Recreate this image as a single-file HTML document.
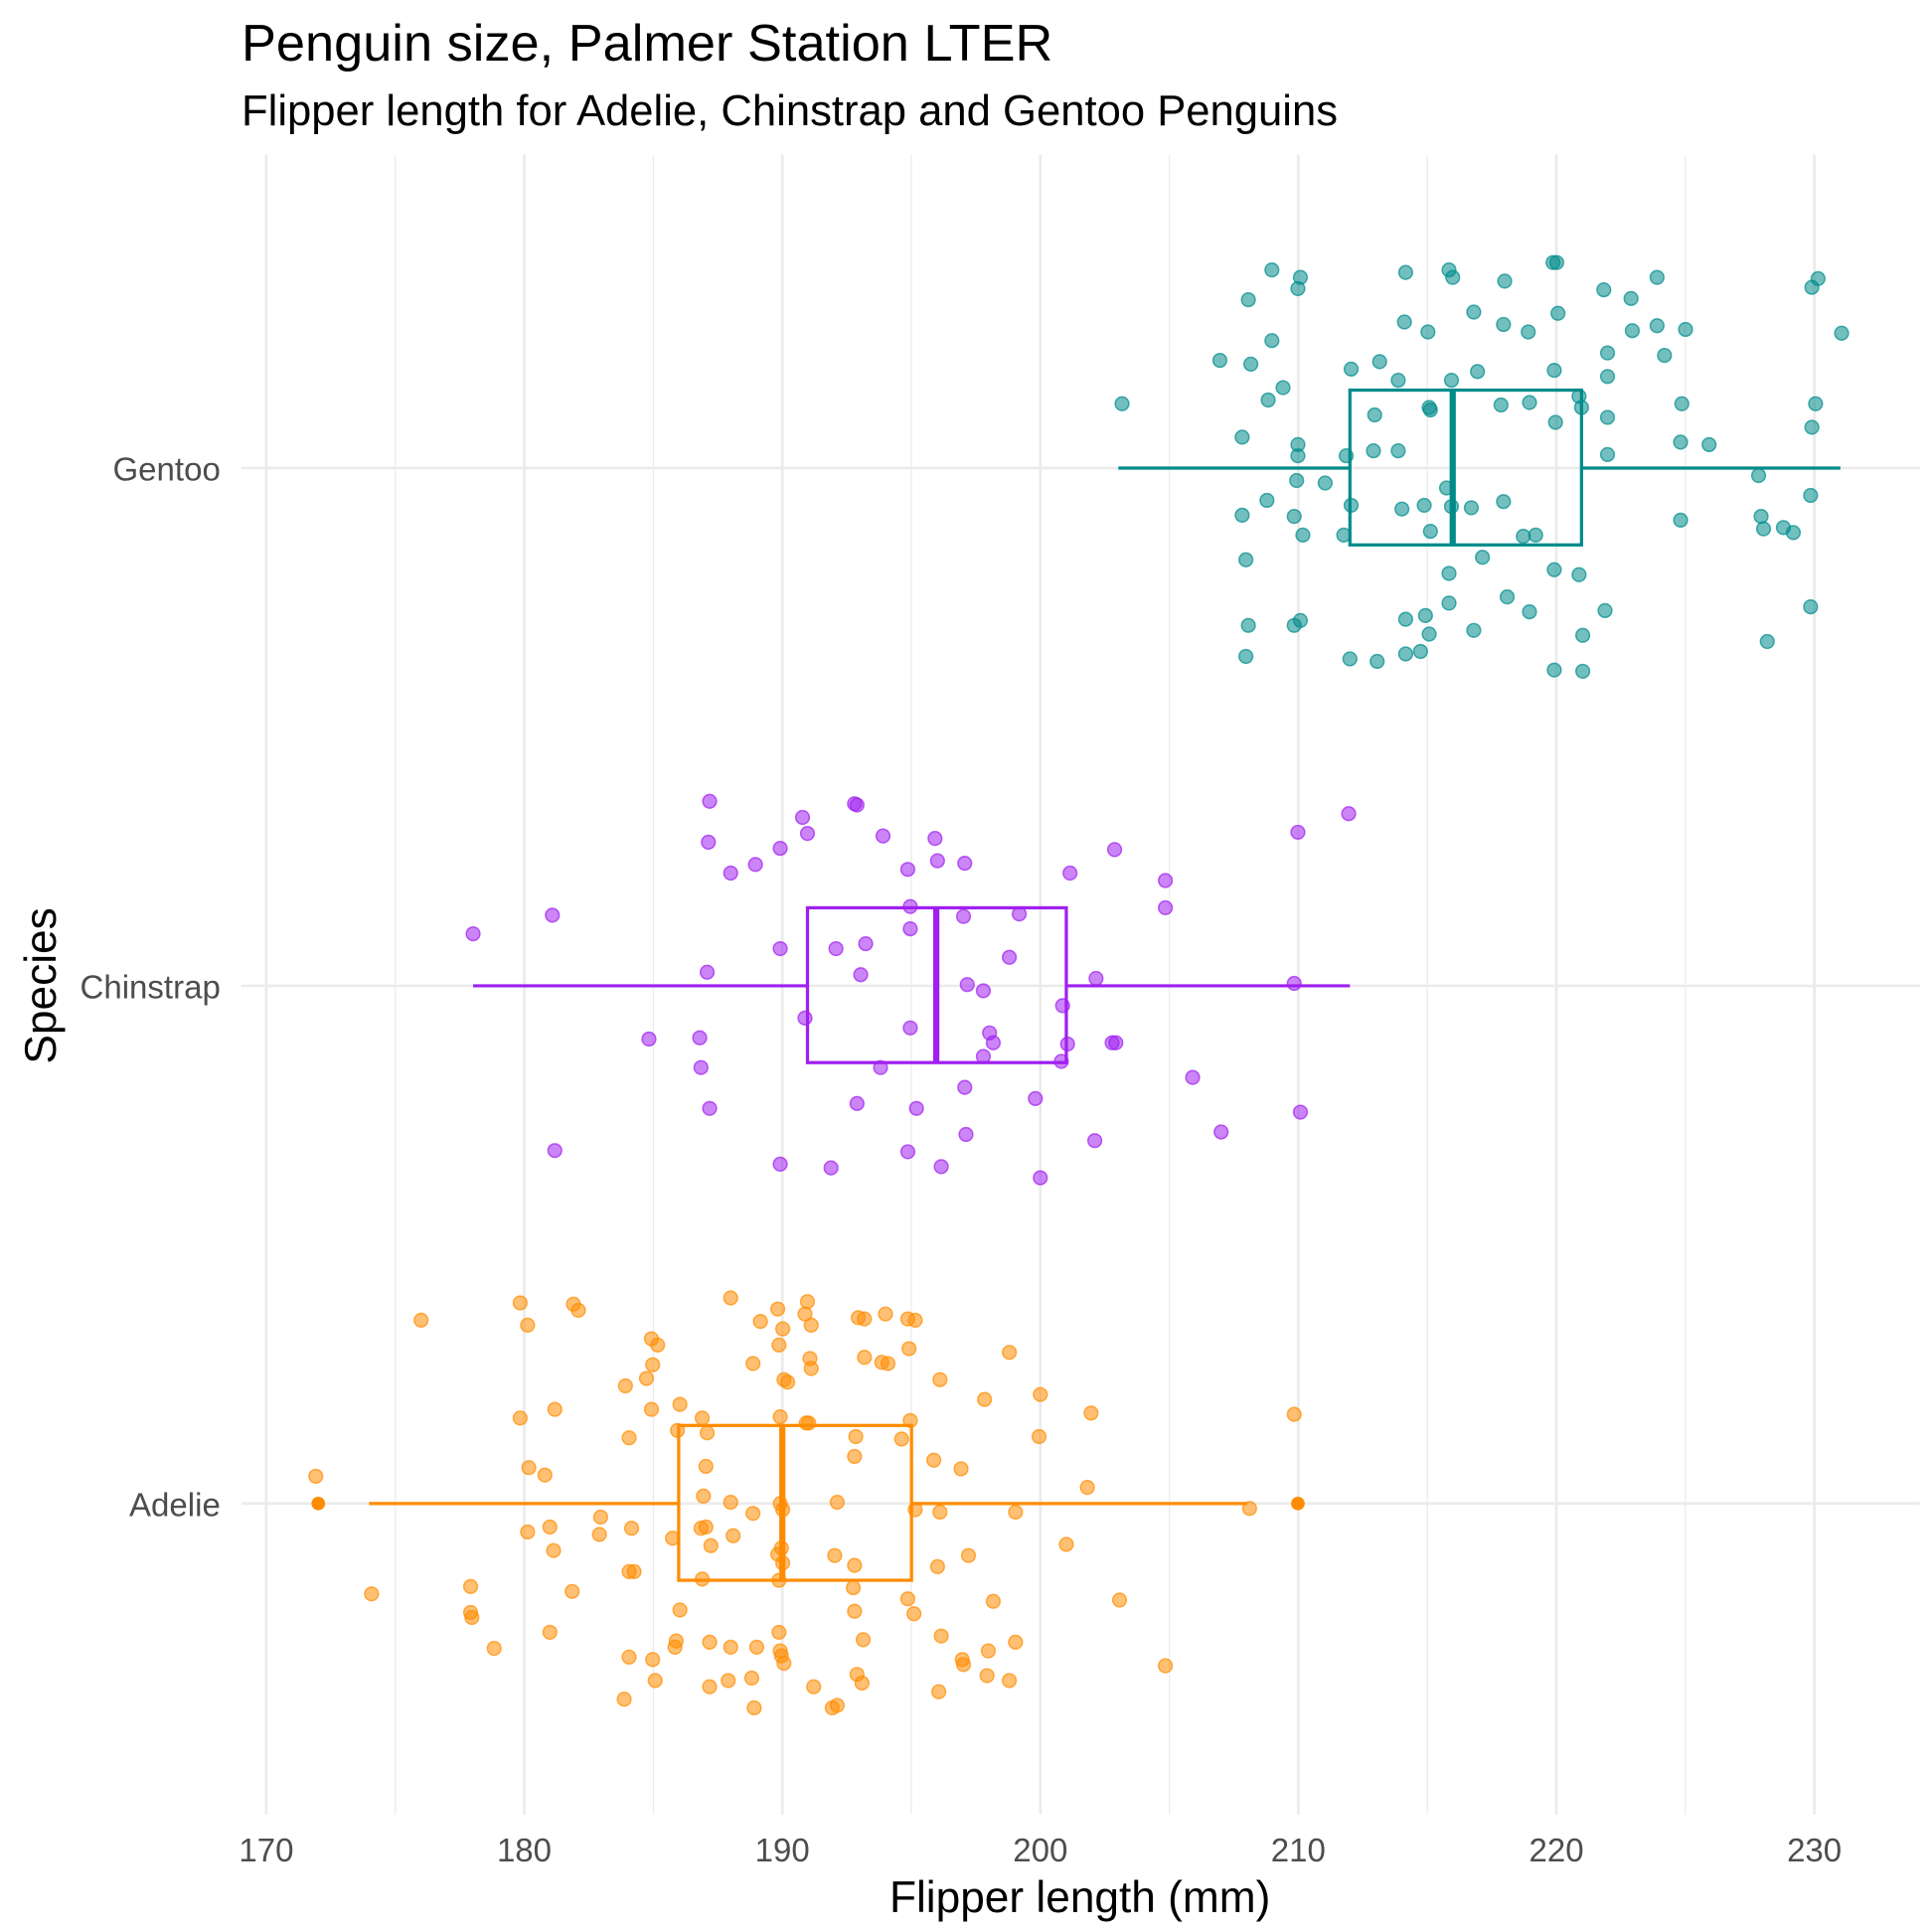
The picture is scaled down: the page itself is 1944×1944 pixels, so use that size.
<!DOCTYPE html>
<html><head><meta charset="utf-8"><style>
html,body{margin:0;padding:0;background:#fff}
svg{display:block}
text{font-family:"Liberation Sans",Arial,sans-serif}
</style></head><body>
<svg width="1944" height="1944" viewBox="0 0 1560 1560" xmlns="http://www.w3.org/2000/svg">
<rect width="1560" height="1560" fill="#fff"/>
<g stroke="#ebebeb" stroke-width="1">
<line x1="319.2" y1="125" x2="319.2" y2="1465"/><line x1="527.5" y1="125" x2="527.5" y2="1465"/><line x1="735.8" y1="125" x2="735.8" y2="1465"/><line x1="944.2" y1="125" x2="944.2" y2="1465"/><line x1="1152.5" y1="125" x2="1152.5" y2="1465"/><line x1="1360.8" y1="125" x2="1360.8" y2="1465"/>
</g>
<g stroke="#ebebeb" stroke-width="2.2">
<line x1="215" y1="125" x2="215" y2="1465"/><line x1="423.3" y1="125" x2="423.3" y2="1465"/><line x1="631.7" y1="125" x2="631.7" y2="1465"/><line x1="840" y1="125" x2="840" y2="1465"/><line x1="1048.3" y1="125" x2="1048.3" y2="1465"/><line x1="1256.7" y1="125" x2="1256.7" y2="1465"/><line x1="1465" y1="125" x2="1465" y2="1465"/>
<line x1="195" y1="378" x2="1550" y2="378"/><line x1="195" y1="796" x2="1550" y2="796"/><line x1="195" y1="1214" x2="1550" y2="1214"/>
</g>
<g fill="none" stroke-width="2.6">
<g stroke="#008b8b"><line x1="903" y1="378" x2="1090" y2="378"/><line x1="1277" y1="378" x2="1486" y2="378"/><rect x="1090" y="315" width="187" height="125"/><line x1="1173" y1="315" x2="1173" y2="440" stroke-width="5"/></g>
<g stroke="#a020f0"><line x1="382" y1="796" x2="652" y2="796"/><line x1="861" y1="796" x2="1090" y2="796"/><rect x="652" y="733" width="209" height="125"/><line x1="756" y1="733" x2="756" y2="858" stroke-width="5"/></g>
<g stroke="#ff8c00"><line x1="298" y1="1214" x2="548" y2="1214"/><line x1="736" y1="1214" x2="1007" y2="1214"/><rect x="548" y="1151" width="188" height="125"/><line x1="631.7" y1="1151" x2="631.7" y2="1276" stroke-width="5"/></g>
</g>
<circle cx="257" cy="1214" r="5.5" fill="#ff8c00"/><circle cx="1048" cy="1214" r="5.5" fill="#ff8c00"/>
<g id="pts" fill-opacity="0.55" stroke-width="1.2" stroke-opacity="0.7"></g>
<g font-size="26.5" fill="#4d4d4d">
<text x="178" y="388" text-anchor="end">Gentoo</text><text x="178" y="806" text-anchor="end">Chinstrap</text><text x="178" y="1224" text-anchor="end">Adelie</text>
<g text-anchor="middle"><text x="215" y="1503">170</text><text x="423.3" y="1503">180</text><text x="631.7" y="1503">190</text><text x="840" y="1503">200</text><text x="1048.3" y="1503">210</text><text x="1256.7" y="1503">220</text><text x="1465" y="1503">230</text></g>
</g>
<text x="872" y="1544" font-size="35.5" text-anchor="middle" fill="#000">Flipper length (mm)</text>
<text transform="translate(45,796) rotate(-90)" font-size="35.5" text-anchor="middle" fill="#000">Species</text>
<text x="195" y="49" font-size="42" fill="#000">Penguin size, Palmer Station LTER</text>
<text x="195" y="101" font-size="35" fill="#000">Flipper length for Adelie, Chinstrap and Gentoo Penguins</text>
</svg>
<script>
var G=[906,326,1003,353,985,291,1010,294,1024,323,1027,275,1008,242,1027,218,1048,233,1050,224,1036,313,1048,359,1048,368,1047,388,1070,390,1087,368,1091,298,1114,292,1129,307,1110,335,1109,364,1129,364,1134,260,1153,268,1135,220,1170,218,1173,224,1190,252,1215,227,1214,262,1234,268,1254,212,1257,212,1258,253,1295,234,1317,241,1338,263,1338,224,1361,266,1318,267,1298,285,1344,287,1298,304,1358,326,1298,337,1357,357,1380,359,1298,367,1255,299,1235,325,1212,327,1256,341,1275,320,1277,329,1193,300,1172,307,1155,331,1154,329,1168,394,1150,408,1172,409,1188,410,1214,405,1240,432,1155,429,1132,411,1091,408,1085,432,1052,432,1045,417,1023,404,1003,416,1006,452,1170,463,1197,450,1217,482,1235,494,1255,460,1275,464,1296,493,1278,513,1255,541,1278,542,1230,433,1170,487,1151,497,1154,512,1135,500,1135,528,1147,526,1112,534,1090,532,1190,509,1045,505,1050,501,1008,505,1006,530,1420,384,1422,417,1424,427,1440,426,1448,430,1462,400,1463,345,1466,326,1462,490,1427,518,1357,420,1463,232,1468,225,1487,269];
var C=[573,647,690,649,692,650,648,660,652,673,713,675,755,677,572,680,630,685,610,698,590,705,733,702,757,695,779,697,900,686,864,705,941,711,941,733,1048,672,1089,657,382,754,446,739,571,785,630,766,675,766,699,762,735,732,735,750,778,740,823,738,815,773,695,787,781,795,794,800,885,790,1045,794,858,812,650,822,735,830,799,834,802,842,862,843,524,839,565,838,566,862,711,862,794,853,857,857,898,842,901,842,963,870,573,895,692,891,740,895,779,878,836,887,1050,898,986,914,884,921,780,916,733,930,448,929,630,940,671,943,760,942,840,951];
var A=[420,1052,463,1053,467,1058,340,1066,426,1070,590,1048,628,1057,652,1051,650,1061,614,1067,632,1073,655,1070,693,1064,698,1065,715,1061,733,1065,739,1066,526,1081,531,1086,629,1086,608,1101,654,1097,655,1105,698,1096,712,1100,717,1101,734,1089,815,1092,527,1102,522,1113,505,1119,633,1114,636,1116,759,1114,840,1126,795,1130,420,1145,448,1138,526,1138,549,1134,567,1145,630,1144,651,1149,653,1149,735,1147,881,1141,1045,1142,839,1160,508,1161,547,1155,571,1157,691,1160,728,1162,754,1179,776,1186,690,1176,427,1185,440,1191,255,1192,570,1184,878,1201,1009,1218,568,1208,590,1213,630,1214,676,1213,608,1222,632,1219,739,1219,759,1221,820,1221,485,1225,426,1237,444,1233,484,1239,510,1234,543,1242,566,1234,570,1233,574,1248,592,1240,631,1250,628,1255,632,1262,674,1256,690,1264,782,1256,861,1247,447,1252,508,1269,512,1269,567,1275,629,1276,757,1265,300,1287,380,1281,462,1285,689,1282,733,1291,802,1293,904,1292,380,1302,381,1306,549,1300,690,1301,738,1303,399,1331,444,1318,508,1338,545,1330,546,1325,573,1326,590,1330,611,1330,629,1318,630,1333,631,1337,697,1324,760,1321,820,1326,798,1333,527,1340,633,1343,777,1340,778,1344,941,1345,529,1357,573,1362,588,1357,607,1355,692,1352,696,1359,657,1362,758,1366,797,1353,815,1357,504,1372,609,1379,672,1379,676,1377];
var g=document.getElementById('pts'),ns='http://www.w3.org/2000/svg';
function add(a,c){for(var i=0;i<a.length;i+=2){var e=document.createElementNS(ns,'circle');e.setAttribute('cx',a[i]);e.setAttribute('cy',a[i+1]);e.setAttribute('r',5.5);e.setAttribute('fill',c);e.setAttribute('stroke',c);g.appendChild(e);}}
add(G,'#008b8b');add(C,'#a020f0');add(A,'#ff8c00');
</script>
</body></html>
